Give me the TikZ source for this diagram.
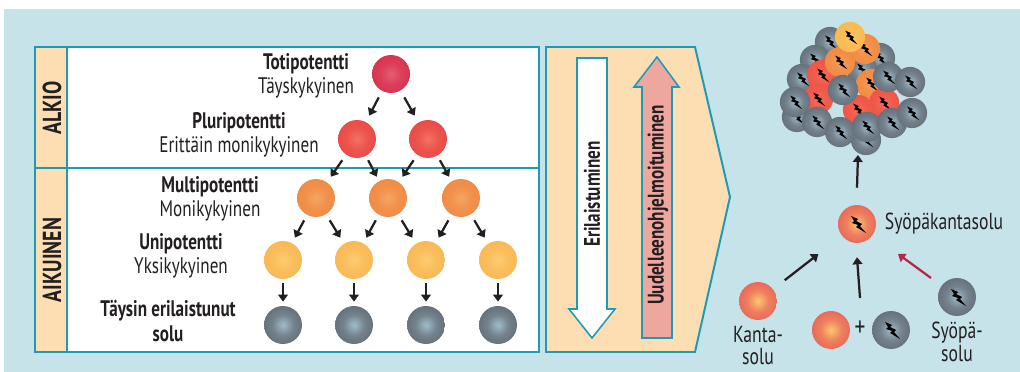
\documentclass[tikz,border=0pt]{standalone}
\usepackage{fontspec}
\setmainfont{PT Sans}[FakeStretch=0.76]
\usepackage{xcolor}
\definecolor{skyback}{RGB}{198,227,234}
\definecolor{panelsand}{RGB}{253,222,178}
\definecolor{frameteal}{RGB}{28,155,182}
\definecolor{backpink}{RGB}{237,167,158}
\definecolor{inkdark}{RGB}{35,31,32}
\definecolor{wine}{RGB}{178,40,72}
% cell colours: centre / rim
\definecolor{totiin}{RGB}{230,95,110}
\definecolor{totiout}{RGB}{208,30,68}
\definecolor{pluriin}{RGB}{242,115,98}
\definecolor{pluriout}{RGB}{229,55,56}
\definecolor{multiin}{RGB}{246,165,100}
\definecolor{multiout}{RGB}{237,126,52}
\definecolor{uniin}{RGB}{253,204,115}
\definecolor{uniout}{RGB}{247,176,70}
\definecolor{ripein}{RGB}{160,188,202}
\definecolor{ripeout}{RGB}{72,74,82}
\definecolor{cstemin}{RGB}{253,198,112}
\definecolor{cstemout}{RGB}{224,58,76}
\definecolor{tumredin}{RGB}{245,110,90}
\definecolor{tumredout}{RGB}{236,72,62}
\definecolor{tumorgin}{RGB}{246,160,90}
\definecolor{tumorgout}{RGB}{238,128,55}
\definecolor{tumyelin}{RGB}{253,200,100}
\definecolor{tumyelout}{RGB}{248,178,72}
\usepackage{tikz}
\usetikzlibrary{arrows.meta,calc,positioning}

\colorlet{cellin}{white}
\colorlet{cellout}{black}
\pgfdeclareradialshading[cellin,cellout]{cellball}{\pgfpointorigin}%
  {color(0bp)=(cellin);color(14bp)=(cellin!50!cellout);color(50bp)=(cellout)}

\newcommand\lblfont{\fontsize{16}{17.5}\selectfont}
\newcommand\stagefont{\bfseries\fontsize{18.5}{18.5}\selectfont}

\tikzset{
  cell/.style={circle, minimum size=27pt, shade, shading=cellball,
    /utils/exec={\colorlet{cellin}{#1in}\colorlet{cellout}{#1out}}},
  lump/.style={cell=#1, minimum size=21.5pt},
  frame/.style={draw=frameteal, line width=1.4pt},
  lvl/.style={align=center, font=\lblfont},
  cellarrow/.style={-{Triangle[length=5pt,width=7pt]}, line width=1.6pt, inkdark},
  bolt/.pic={\fill[black] (-6,-8) -- (1,-5) -- (-1,-3) -- (5,0) -- (3,2) -- (9,9)
    -- (-1,3) -- (1,1) -- (-5,-1) -- (-3,-3) -- cycle;}
}

\begin{document}
\begin{tikzpicture}[x=0.025cm,y=-0.025cm,inner sep=0pt,text=inkdark]
\useasboundingbox (0,0) rectangle (1020,372);
\fill[skyback] (4,9) rectangle (1020,372);

% stage table
\fill[white] (35,47) rectangle (539,352);
\fill[panelsand] (35,47) rectangle (67,352);
\draw[frame] (35,47) rectangle (539,352);
\draw[frame] (67,47) -- (67,352);
\draw[frame] (35,168) -- (539,168);
\node[rotate=90, font=\stagefont] (alkio) at (52,108) {ALKIO};
\node[rotate=90, font=\stagefont] (aikuinen) at (52,260) {AIKUINEN};

% potency levels
\node[lvl] (totitxt) at (306,76) {\textbf{Totipotentti}\\Täyskykyinen};
\node[lvl] (pluritxt) at (239,135) {\textbf{Pluripotentti}\\Erittäin monikykyinen};
\node[lvl] (multitxt) at (210,199) {\textbf{Multipotentti}\\Monikykyinen};
\node[lvl] (unitxt) at (181,256) {\textbf{Unipotentti}\\Yksikykyinen};
\node[lvl, font=\lblfont\bfseries] (ripetxt) at (168,321) {Täysin erilaistunut\\solu};

\node[cell=toti] (t1) at (391,74) {};
\foreach \x [count=\i] in {357,428}
  \node[cell=pluri] (p\i) at (\x,139) {};
\foreach \x [count=\i] in {316,388,461}
  \node[cell=multi] (m\i) at (\x,198) {};
\foreach \x [count=\i] in {283,354,426,498} {
  \node[cell=uni] (u\i) at (\x,260) {};
  \node[cell=ripe] (d\i) at (\x,325) {};
  \draw[cellarrow] ($(u\i)!.36!(d\i)$) -- ($(u\i)!.64!(d\i)$);
}
\foreach \s/\t in {t1/p1,t1/p2,p1/m1,p1/m2,p2/m2,p2/m3,m1/u1,m1/u2,m2/u2,m2/u3,m3/u3,m3/u4}
  \draw[cellarrow] ($(\s)!.36!(\t)$) -- ($(\s)!.64!(\t)$);

% direction panel
\draw[frame, fill=panelsand] (546,47) -- (695,47) -- (730,197) -- (695,352) -- (546,352) -- cycle;
\draw[frame, line width=1.1pt, fill=white] (577,58) -- (607,58) -- (607,309) -- (615,309)
  -- (592,338) -- (569,309) -- (577,309) -- cycle;
\draw[frame, line width=1.1pt, fill=backpink] (642,338) -- (672,338) -- (672,87) -- (679,87)
  -- (657,57) -- (634,87) -- (642,87) -- cycle;
\node[rotate=90, font=\bfseries\fontsize{16}{16}\selectfont] (diff) at (592,194) {Erilaistuminen};
\node[rotate=90, font=\bfseries\fontsize{16}{16}\selectfont] (reprog) at (658,205) {Uudelleenohjelmoituminen};

% tumour
\foreach \x/\y [count=\i] in {830/42, 880/58, 815/60, 862/70, 802/79, 797/117, 866/140} {
  \node[lump=ripe] (bk\i) at (\x,\y) {};
  \pic[scale=.8] at (\x,\y) {bolt};
}
\foreach \x/\y/\c [count=\i] in {822/75/tumred, 818/99/tumred, 871/84/tumorg, 884/103/tumred,
    858/110/tumred, 840/62/tumorg, 865/49/tumorg, 850/37/tumyel} {
  \node[lump=\c] (cc\i) at (\x,\y) {};
  \pic[scale=.8] at (\x,\y) {bolt};
}
\foreach \x/\y [count=\i] in {795/102, 843/90, 817/122, 840/132, 867/127, 892/123, 912/113, 888/77, 910/82} {
  \node[lump=ripe] (fr\i) at (\x,\y) {};
  \pic[scale=.8] at (\x,\y) {bolt};
}
\coordinate (tumor) at (858,155);

% origin of the cancer stem cell
\node[cell=cstem] (cstem) at (857,224) {};
\pic at (cstem) {bolt};
\node[font=\fontsize{16.5}{16.5}\selectfont, right=6pt of cstem] (cstemtxt) {Syöpäkantasolu};

\node[cell=cstem] (stem) at (758,301) {};
\node[lvl, below=4pt of stem, font=\fontsize{16.5}{16}\selectfont] (stemtxt) {Kanta-\\solu};

\node[cell=cstem] (stemb) at (831,330) {};
\node[font=\fontsize{20}{20}\selectfont] (plus) at (860,329) {+};
\node[cell=ripe] (cancb) at (891,330) {};
\pic at (cancb) {bolt};

\node[cell=ripe] (canc) at (957,297) {};
\pic at (canc) {bolt};
\node[lvl, below=4pt of canc, font=\fontsize{16.5}{16}\selectfont] (canctxt) {Syöpä-\\solu};

\draw[cellarrow] ($(stem)!.27!(cstem)$) -- ($(stem)!.61!(cstem)$);
\draw[cellarrow] ($(plus)+(0,-31)$) -- ($(cstem.south)+(0,14)$);
\draw[cellarrow, wine] ($(canc)!.26!(cstem)$) -- ($(canc)!.59!(cstem)$);
\draw[cellarrow] ($(cstem.north)+(0,-17)$) -- (tumor);
\end{tikzpicture}
\end{document}
